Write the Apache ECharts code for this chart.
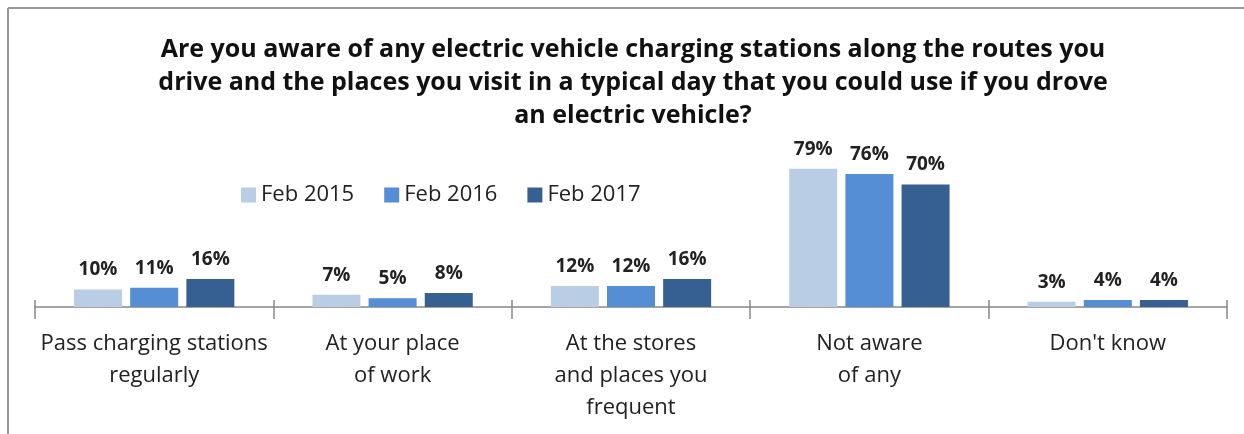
<!DOCTYPE html>
<html>
<head>
<meta charset="utf-8">
<script src="https://cdn.jsdelivr.net/npm/echarts@6/dist/echarts.min.js"></script>
<style>html,body{margin:0;padding:0;background:#fff}#c{width:1244px;height:434px}</style>
</head>
<body>
<div id="c"></div>
<script>
const titleText = "Are you aware of any electric vehicle charging stations along the routes you\ndrive and the places you visit in a typical day that you could use if you drove\nan electric vehicle?";
const categories = ["Pass charging stations\nregularly", "At your place\nof work", "At the stores\nand places you\nfrequent", "Not aware\nof any", "Don't know"];
const seriesNames = ["Feb 2015", "Feb 2016", "Feb 2017"];
const feb2015 = [10, 7, 12, 79, 3];
const feb2016 = [11, 5, 12, 76, 4];
const feb2017 = [16, 8, 16, 70, 4];
const colors = ["#B9CDE5", "#558ED5", "#376092"];

const FONT = "'Open Sans', sans-serif";
const chart = echarts.init(document.getElementById('c'));
const data = [feb2015, feb2016, feb2017];
chart.setOption({
  animation: false,
  title: {
    text: titleText,
    left: 628, top: 28, textAlign: 'center',
    textStyle: { fontFamily: FONT, fontWeight: 'bold', fontSize: 25, lineHeight: 33, color: '#111' }
  },
  legend: {
    left: 236, top: 179,
    itemWidth: 15, itemHeight: 15, itemGap: 30,
    icon: 'rect',
    textStyle: { fontFamily: FONT, fontSize: 22, color: '#222' },
    data: seriesNames
  },
  grid: { left: 35, right: 17, top: 132, height: 175, containLabel: false },
  xAxis: [{
    type: 'category', data: categories,
    axisLine: { lineStyle: { color: '#888', width: 1.5 } },
    axisTick: { show: true, length: 12, lineStyle: { color: '#888', width: 1.5 } },
    axisLabel: { fontFamily: FONT, fontSize: 22, color: '#222', lineHeight: 32, margin: 21, interval: 0 }
  }, {
    type: 'category', data: categories, position: 'bottom',
    axisLine: { show: false },
    axisTick: { show: true, inside: true, length: 7, lineStyle: { color: '#888', width: 1.5 } },
    axisLabel: { show: false }
  }],
  yAxis: { type: 'value', min: 0, max: 100, show: false, splitLine: { show: false } },
  series: seriesNames.map((n, i) => ({
    name: n, type: 'bar', data: data[i], xAxisIndex: 0,
    barWidth: 48, barGap: '17%',
    itemStyle: { color: colors[i] },
    label: {
      show: true, position: 'top', distance: 10, formatter: '{c}%',
      fontFamily: FONT, fontWeight: 'bold', fontSize: 19, color: '#222'
    }
  })),
  graphic: [
    { type: 'line', shape: { x1: 8, y1: 8, x2: 1244, y2: 8 }, style: { stroke: '#999', lineWidth: 2 } },
    { type: 'line', shape: { x1: 8, y1: 8, x2: 8, y2: 434 }, style: { stroke: '#999', lineWidth: 2 } }
  ]
});
</script>
</body>
</html>
